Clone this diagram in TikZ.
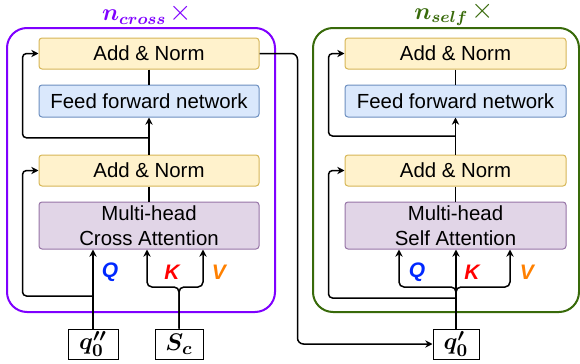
\documentclass[tikz,border=0pt]{standalone}
\usepackage[no-math]{fontspec}
\setmainfont{Liberation Sans}
\usepackage{amsmath,bm}
\usetikzlibrary{arrows.meta,calc}
\definecolor{purp}{RGB}{127,0,255}
\definecolor{grn}{RGB}{56,106,10}
\definecolor{anfill}{HTML}{FFF2CC}
\definecolor{andraw}{HTML}{D6B656}
\definecolor{fffill}{HTML}{DAE8FC}
\definecolor{ffdraw}{HTML}{6C8EBF}
\definecolor{mhfill}{HTML}{E1D5E7}
\definecolor{mhdraw}{HTML}{9673A6}
\definecolor{qcol}{RGB}{0,40,255}
\definecolor{kcol}{RGB}{255,0,0}
\definecolor{vcol}{RGB}{255,128,0}
\newcommand{\bigtimes}{\hspace{1.5pt}\raisebox{0.2pt}{\fontsize{14}{14}\selectfont$\times$}}
\tikzset{
  blk/.style={draw, line width=0.5pt, rounded corners=1.5pt, inner sep=0pt, align=center,
    font=\fontsize{10.2}{12.5}\selectfont},
  addnorm/.style={blk, fill=anfill, draw=andraw, minimum height=15.5pt},
  ffn/.style={blk, fill=fffill, draw=ffdraw, minimum height=16pt},
  mha/.style={blk, fill=mhfill, draw=mhdraw, minimum height=23.5pt},
  inbox/.style={draw, line width=0.5pt, fill=white, inner sep=0pt, minimum height=15pt,
    font=\fontsize{12.5}{14}\selectfont},
  cont/.style={line width=1pt, rounded corners=10pt},
  arr/.style={line width=0.75pt, -{Stealth[length=3.6pt,width=3.6pt]}},
  ln/.style={line width=0.75pt},
  lbl/.style={font=\fontsize{10.5}{12}\selectfont\bfseries\itshape},
  ttl/.style={font=\fontsize{11.5}{13}\selectfont, inner sep=1pt}
}
\begin{document}
\begin{tikzpicture}[x=0.5pt,y=-0.5pt]
\useasboundingbox (0,0) rectangle (580,364);
% containers
\draw[cont, draw=purp] (7,28) rectangle (275,312);
\draw[cont, draw=grn] (313,28) rectangle (579,312);
\node[ttl, text=purp] (tc) at (147,14) {$\bm{n_{cross}}$\bigtimes};
\node[ttl, text=grn] (ts) at (454,14) {$\bm{n_{self}}$\bigtimes};
% left blocks
\node[addnorm, minimum width=110pt] (LA1) at (149,53.5) {Add \& Norm};
\node[ffn, minimum width=110pt] (LF) at (149,101) {Feed forward network};
\node[addnorm, minimum width=110pt] (LA2) at (149,170.5) {Add \& Norm};
\node[mha, minimum width=110pt] (LM) at (149,225.5) {Multi-head\\Cross Attention};
% right blocks
\node[addnorm, minimum width=110.5pt] (RA1) at (455.5,53.5) {Add \& Norm};
\node[ffn, minimum width=110.5pt] (RF) at (455.5,101) {Feed forward network};
\node[addnorm, minimum width=110.5pt] (RA2) at (455.5,170.5) {Add \& Norm};
\node[mha, minimum width=110.5pt] (RM) at (455.5,225.5) {Multi-head\\Self Attention};
% inputs
\node[inbox, minimum width=25pt] (qpp) at (93,344) {$\bm{q''_0}$};
\node[inbox, minimum width=24pt] (sc) at (179,344) {$\bm{S_c}$};
\node[inbox, minimum width=23pt] (qp) at (456,344) {$\bm{q'_0}$};
% helper coordinates
\coordinate (kx) at (147,0);
\coordinate (vx) at (203,0);
\coordinate (rq) at (399,0);
\coordinate (rv) at (510,0);
\coordinate (lsplit) at (0,287);
\coordinate (jq) at (93,296);
\coordinate (jr) at (456,298);
% left connections
\draw[ln] (LA1.south) -- (LF.north);
\draw[arr] (LA2.north) -- (LF.south);
\draw[arr, rounded corners=2pt] ($(LF.south)!0.55!(LA2.north)$) -| ([xshift=-8pt]LA1.west) -- (LA1.west);
\draw[ln] (LA2.south) -- (LM.north);
\draw[arr] (qpp.north) -- (qpp.north |- LM.south);
\draw[arr, rounded corners=2pt] (jq) -| ([xshift=-8pt]LA2.west) -- (LA2.west);
\draw[arr, rounded corners=2.5pt] (sc.north) |- (kx |- lsplit) -- (kx |- LM.south);
\draw[arr, rounded corners=2.5pt] (sc.north) |- (vx |- lsplit) -- (vx |- LM.south);
\node[lbl, text=qcol] (lq) at (110,272) {Q};
\node[lbl, text=kcol] (lk) at (172,272) {K};
\node[lbl, text=vcol] (lv) at (219,272) {V};
% cross to self
\draw[arr, rounded corners=3pt] (LA1.east) -- ++(38,0) |- (qp.west);
% right connections
\draw[ln] (RA1.south) -- (RF.north);
\draw[arr] (RA2.north) -- (RF.south);
\draw[arr, rounded corners=2pt] ($(RF.south)!0.5!(RA2.north)$) -| ([xshift=-8pt]RA1.west) -- (RA1.west);
\draw[ln] (RA2.south) -- (RM.north);
\draw[arr] (qp.north) -- (qp.north |- RM.south);
\draw[arr, rounded corners=2pt] (jr) -| ([xshift=-8pt]RA2.west) -- (RA2.west);
\draw[arr, rounded corners=2.5pt] (qp.north) |- (rq |- lsplit) -- (rq |- RM.south);
\draw[arr, rounded corners=2.5pt] (qp.north) |- (rv |- lsplit) -- (rv |- RM.south);
\node[lbl, text=qcol] (rql) at (417,272) {Q};
\node[lbl, text=kcol] (rkl) at (472,272) {K};
\node[lbl, text=vcol] (rvl) at (527,272) {V};
\end{tikzpicture}
\end{document}
